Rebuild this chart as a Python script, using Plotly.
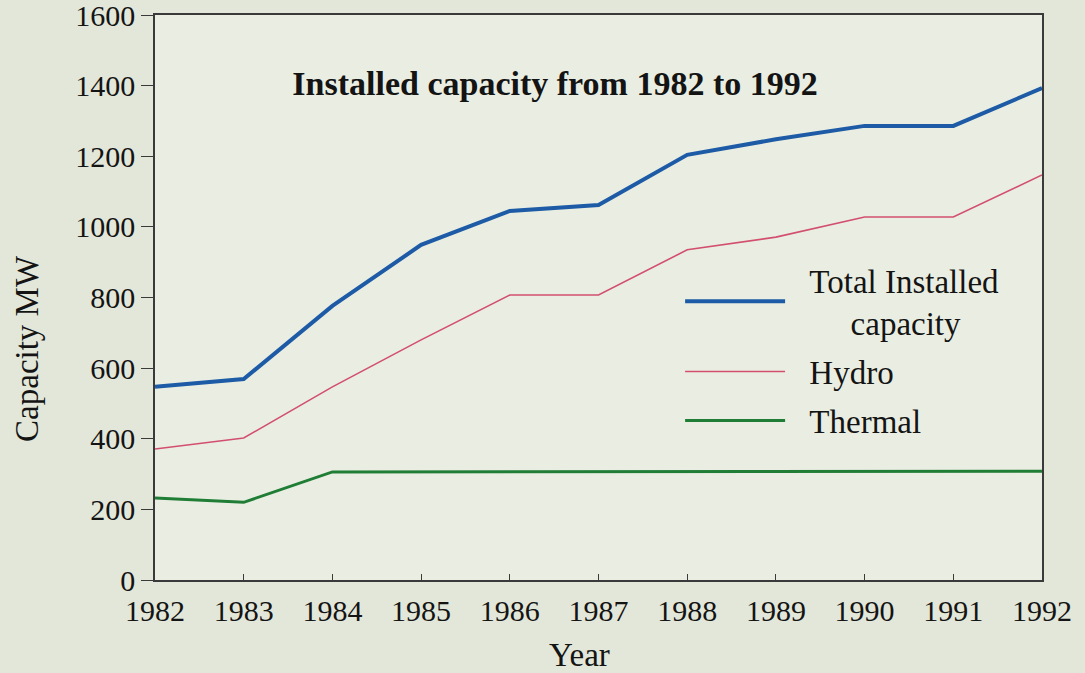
import plotly.graph_objects as go

years = [1982, 1983, 1984, 1985, 1986, 1987, 1988, 1989, 1990, 1991, 1992]
total = [547, 569, 776, 949, 1045, 1062, 1204, 1248, 1286, 1286, 1393]
hydro = [371, 402, 547, 680, 807, 807, 935, 971, 1028, 1028, 1147]
thermal = [232, 220, 306, 306, 306, 306, 306, 306, 306, 306, 308]

y_ticks = [0, 200, 400, 600, 800, 1000, 1200, 1400, 1600]

FONT = "Liberation Serif, Times New Roman, serif"
INK = "#141414"
PAPER = "#e3e7d9"
GAP = "\u00a0\u00a0\u200a"  # space between legend line and its text

fig = go.Figure()
# one legend group per trace so tracegroupgap spaces the items
fig.add_trace(go.Scatter(x=years, y=total, mode="lines",
                         name=GAP + "Total Installed<br>" + GAP + "\u00a0\u00a0\u00a0\u00a0\u00a0capacity",
                         line=dict(color="#1d5ba6", width=4), legendgroup="a"))
fig.add_trace(go.Scatter(x=years, y=hydro, mode="lines", name=GAP + "Hydro",
                         line=dict(color="#d24f70", width=1.6), legendgroup="b"))
fig.add_trace(go.Scatter(x=years, y=thermal, mode="lines", name=GAP + "Thermal",
                         line=dict(color="#1f7d35", width=3), legendgroup="c"))

fig.update_layout(
    width=1085, height=673,
    margin=dict(l=155, r=43, t=15, b=93),
    paper_bgcolor=PAPER,
    plot_bgcolor="#eaeee2",
    font=dict(family=FONT, color=INK, size=30),
    title=dict(text="<b>Installed capacity from 1982 to 1992</b>",
               font=dict(size=34, family=FONT, color=INK),
               xref="paper", x=0.451, xanchor="center",
               yref="container", y=1 - 83 / 673, yanchor="middle"),
    showlegend=True,
    legend=dict(x=0.592, xanchor="left", y=0.581, yanchor="top",
                font=dict(size=33, family=FONT, color=INK),
                bgcolor="rgba(0,0,0,0)", itemwidth=100, tracegroupgap=3,
                traceorder="grouped"),
)

# axis titles as annotations: in the original they sit off-centre
fig.add_annotation(text="Capacity MW", textangle=-90, showarrow=False,
                   xref="paper", yref="paper", x=-0.1443, y=0.409,
                   xanchor="center", yanchor="middle",
                   font=dict(size=33, family=FONT, color=INK))
fig.add_annotation(text="Year", showarrow=False,
                   xref="paper", yref="paper", x=0.479, y=-0.133,
                   xanchor="center", yanchor="middle",
                   font=dict(size=33, family=FONT, color=INK))

fig.update_xaxes(
    range=[1982, 1992], tickvals=years, ticktext=[str(y) for y in years],
    showgrid=False, zeroline=False, automargin=False,
    showline=True, linecolor="#3a3a3a", linewidth=1.5, mirror=True,
    ticks="inside", ticklen=6, tickcolor="#3a3a3a",
    tickfont=dict(size=30, family=FONT, color=INK),
    ticklabeloverflow="allow", ticklabelstandoff=3,
)
fig.update_yaxes(
    range=[0, 1600], tickvals=y_ticks,
    showgrid=False, zeroline=False, automargin=False,
    showline=True, linecolor="#3a3a3a", linewidth=1.5, mirror=True,
    ticks="outside", ticklen=12, tickcolor="#3a3a3a",
    tickfont=dict(size=30, family=FONT, color=INK),
    ticklabeloverflow="allow",
)

fig.write_html("out.html", config={"displayModeBar": False},
               post_script="document.body.style.margin='0';document.body.style.background='" + PAPER + "';")
